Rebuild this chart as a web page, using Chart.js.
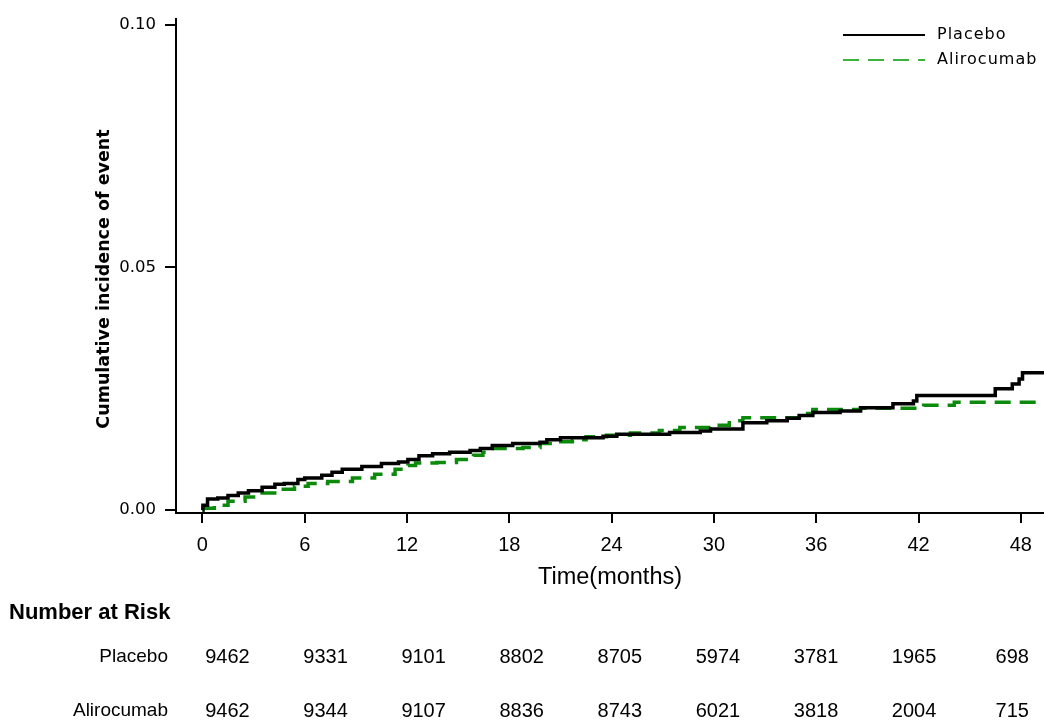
<!DOCTYPE html>
<html>
<head>
<meta charset="utf-8">
<script src="https://cdn.jsdelivr.net/npm/chart.js@4.4.1/dist/chart.umd.min.js"></script>
<style>
  html, body { margin: 0; padding: 0; background: #fff; }
  #wrap { width: 1044px; height: 723px; }
</style>
</head>
<body>
<div id="wrap"><canvas id="km"></canvas></div>
<script>
// step points (months, cumulative incidence)
const placeboMonths = [0, 0.03, 0.3, 0.9, 1.5, 2.1, 2.7, 3.5, 4.25, 4.8, 5.6, 6.0, 7.0, 7.6, 8.2, 9.35, 10.5, 11.5, 12.05, 12.7, 13.5, 14.5, 15.7, 16.3, 17.0, 18.2, 19.8, 20.2, 21.0, 23.5, 24.3, 27.4, 29.2, 29.8, 31.7, 33.1, 34.3, 35.0, 35.8, 37.4, 38.6, 40.5, 41.7, 41.9, 46.5, 47.5, 47.9, 48.1, 49.4];
const placeboInc = [0, 0.001, 0.0023, 0.0025, 0.003, 0.0035, 0.004, 0.0047, 0.0053, 0.0055, 0.0063, 0.0066, 0.0072, 0.0078, 0.0084, 0.009, 0.0096, 0.0099, 0.0104, 0.0112, 0.0116, 0.0119, 0.0123, 0.0127, 0.0133, 0.0137, 0.014, 0.0145, 0.0149, 0.0152, 0.0156, 0.016, 0.0163, 0.0167, 0.018, 0.0184, 0.0189, 0.0195, 0.0201, 0.0204, 0.0211, 0.0219, 0.0225, 0.0236, 0.025, 0.026, 0.027, 0.0283, 0.0283];

const aliroMonths = [0, 0.03, 0.7, 1.5, 2.5, 3.5, 4.4, 5.4, 6.2, 7.35, 8.8, 10.1, 11.3, 12.05, 12.5, 13.75, 14.9, 15.9, 16.45, 17.0, 18.8, 19.8, 20.55, 21.7, 22.5, 23.7, 25.1, 26.8, 28.0, 29.8, 30.9, 31.7, 35.2, 35.8, 38.6, 42.3, 44.1, 49.4];
const aliroInc = [0, 0.0004, 0.001, 0.0018, 0.0027, 0.0035, 0.0043, 0.0049, 0.0055, 0.0059, 0.0066, 0.0074, 0.0084, 0.0092, 0.0097, 0.0098, 0.0104, 0.0113, 0.0119, 0.0127, 0.0129, 0.0137, 0.0141, 0.0145, 0.0151, 0.0154, 0.0159, 0.0164, 0.017, 0.0175, 0.0184, 0.019, 0.0199, 0.0207, 0.021, 0.0216, 0.0222, 0.0222];

const xTicks = [0, 6, 12, 18, 24, 30, 36, 42, 48];
const yTicks = [0, 0.05, 0.10];

const riskMonths = [0, 6, 12, 18, 24, 30, 36, 42, 48];
const placeboAtRisk = [9462, 9331, 9101, 8802, 8705, 5974, 3781, 1965, 698];
const aliroAtRisk = [9462, 9344, 9107, 8836, 8743, 6021, 3818, 2004, 715];

const green = "#0b8a0b";
const legendGreen = "#3cb43c";

const toPoints = (xs, ys) => xs.map((x, i) => ({x: x, y: ys[i]}));

// y title, legend in the top right corner, number at risk table under the axis
const extras = {
    id: "extras",
    afterDraw(chart) {
        const ctx = chart.ctx;
        const xs = chart.scales.x;
        ctx.save();

        // y axis title (sits a little below the axis middle)
        ctx.save();
        ctx.translate(104, 279);
        ctx.rotate(-Math.PI / 2);
        ctx.font = 'bold 17.5px "DejaVu Sans"';
        ctx.fillStyle = "#000";
        ctx.textAlign = "center";
        ctx.textBaseline = "middle";
        ctx.fillText("Cumulative incidence of event", 0, 0);
        ctx.restore();

        // legend
        const items = [
            {label: chart.data.datasets[0].label, color: "#000", dash: [], y: 35},
            {label: chart.data.datasets[1].label, color: legendGreen, dash: [16, 9], y: 60}
        ];
        ctx.font = '16px "DejaVu Sans"';
        ctx.letterSpacing = "1px";
        ctx.textBaseline = "middle";
        ctx.textAlign = "left";
        items.forEach(it => {
            ctx.strokeStyle = it.color;
            ctx.lineWidth = 2;
            ctx.setLineDash(it.dash);
            ctx.beginPath();
            ctx.moveTo(843, it.y);
            ctx.lineTo(925, it.y);
            ctx.stroke();
            ctx.fillStyle = "#000";
            ctx.fillText(it.label, 937, it.y);
        });
        ctx.setLineDash([]);
        ctx.letterSpacing = "0px";

        // number at risk
        ctx.fillStyle = "#000";
        ctx.font = 'bold 22px "Liberation Sans"';
        ctx.fillText("Number at Risk", 9, 613);

        ctx.font = '19px "Liberation Sans"';
        ctx.textAlign = "right";
        ctx.fillText("Placebo", 168, 657);
        ctx.fillText("Alirocumab", 168, 711);

        ctx.font = '20px "Liberation Sans"';
        ctx.textAlign = "center";
        riskMonths.forEach((t, i) => {
            const px = xs.getPixelForValue(t) + 25 - 0.7 * t;
            ctx.fillText(String(placeboAtRisk[i]), px, 657);
            ctx.fillText(String(aliroAtRisk[i]), px, 711);
        });
        ctx.restore();
    }
};

new Chart(document.getElementById("km"), {
    type: "line",
    data: {
        datasets: [
            {
                label: "Placebo",
                data: toPoints(placeboMonths, placeboInc),
                borderColor: "#000",
                borderWidth: 3.5,
                stepped: true,
                pointRadius: 0,
                fill: false
            },
            {
                label: "Alirocumab",
                data: toPoints(aliroMonths, aliroInc),
                borderColor: green,
                borderWidth: 3.5,
                borderDash: [16, 9],
                stepped: true,
                pointRadius: 0,
                fill: false
            }
        ]
    },
    options: {
        responsive: true,
        maintainAspectRatio: false,
        animation: false,
        layout: {
            padding: {top: 16, right: 0, bottom: 131, left: 0}
        },
        plugins: {
            legend: {display: false},
            tooltip: {enabled: false}
        },
        scales: {
            x: {
                type: "linear",
                min: -1.55,
                max: 49.36,
                afterBuildTicks: s => { s.ticks = xTicks.map(v => ({value: v})); },
                afterFit: s => { s.height = 79; },
                grid: {drawOnChartArea: false, drawTicks: true, tickLength: 10, color: "#000", lineWidth: 2},
                border: {color: "#000", width: 2},
                ticks: {
                    color: "#000",
                    padding: 10,
                    maxRotation: 0,
                    font: {family: "Liberation Sans", size: 20}
                },
                title: {
                    display: true,
                    text: "Time(months)",
                    color: "#000",
                    padding: {top: 0, bottom: 0},
                    font: {family: "Liberation Sans", size: 23.5}
                }
            },
            y: {
                type: "linear",
                min: -0.0006,
                max: 0.1012,
                afterBuildTicks: s => { s.ticks = yTicks.map(v => ({value: v})); },
                afterFit: s => { s.width = 176; },
                grid: {drawOnChartArea: false, drawTicks: true, tickLength: 11, color: "#000", lineWidth: 2},
                border: {color: "#000", width: 2},
                ticks: {
                    color: "#000",
                    padding: 9,
                    font: {family: "DejaVu Sans", size: 16.5},
                    callback: v => v.toFixed(2)
                },
                title: {display: false}
            }
        }
    },
    plugins: [extras]
});
</script>
</body>
</html>
